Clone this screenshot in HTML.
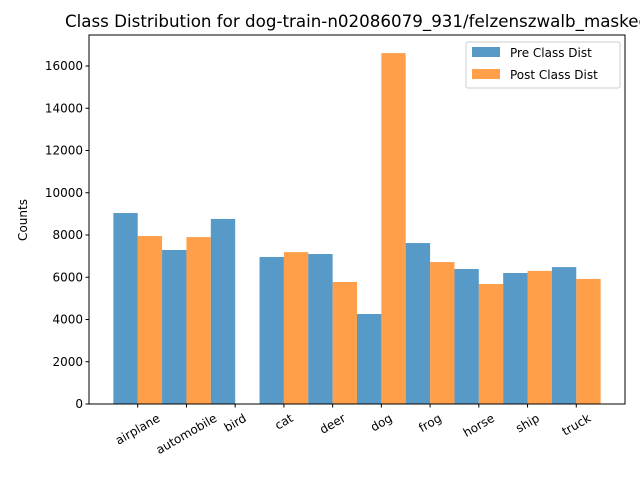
<!DOCTYPE html>
<html><head><meta charset="utf-8"><style>
body{margin:0;background:#fff;}
svg{display:block;font-family:"DejaVu Sans","Liberation Sans",sans-serif;}
</style></head><body>
<svg id="chart" width="640" height="480" viewBox="0 0 640 480" xmlns="http://www.w3.org/2000/svg">
<rect width="640" height="480" fill="#fff"/>
<text x="357" y="27" font-size="16.7" text-anchor="middle" fill="#000">Class Distribution for dog-train-n02086079_931/felzenszwalb_masked</text>
<g id="bars"></g>
<g id="axes"></g>
<text transform="translate(27,220) rotate(-90)" font-size="12" text-anchor="middle">Counts</text>
<g>
<rect x="466" y="42" width="154" height="46" fill="#fff" fill-opacity="0.8" stroke="#ccc" rx="2"/>
<rect x="472" y="47" width="28" height="10" fill="#1f77b4" fill-opacity="0.75"/>
<text x="510" y="57" font-size="12">Pre Class Dist</text>
<rect x="472" y="69" width="28" height="10" fill="#ff7f0e" fill-opacity="0.75"/>
<text x="510" y="79" font-size="12">Post Class Dist</text>
</g>
</svg>
<script>
const categories=["airplane","automobile","bird","cat","deer","dog","frog","horse","ship","truck"];
const preValues=[9040,7290,8760,6960,7100,4260,7620,6390,6200,6480];
const postValues=[7950,7900,0,7190,5775,16610,6720,5680,6300,5920];
const yTicks=[0,2000,4000,6000,8000,10000,12000,14000,16000];
const L=89,R=625,T=35,B=404;
const x=i=>L+(i+1)/11*(R-L);
const y=v=>B-v/16000*(B-66);
const NS="http://www.w3.org/2000/svg";
function mk(t,a,p){const e=document.createElementNS(NS,t);for(const k in a)e.setAttribute(k,a[k]);p.appendChild(e);return e;}
const bars=document.getElementById('bars'),axes=document.getElementById('axes');
const w=x(0.5)-x(0);
categories.forEach((c,i)=>{
 let r=mk('rect',{x:x(i-0.5),y:y(preValues[i]),width:w,height:B-y(preValues[i]),fill:'#1f77b4','fill-opacity':0.75},bars);
 
 
 let q=mk('rect',{x:x(i),y:y(postValues[i]),width:w,height:B-y(postValues[i]),fill:'#ff7f0e','fill-opacity':0.75},bars);
 
 
 mk('line',{x1:x(i),x2:x(i),y1:B,y2:B+3.5,stroke:'#000'},axes);
 let t=mk('text',{'font-size':12,'text-anchor':'middle','dominant-baseline':'central'},axes);
 t.textContent=c;
 
 
 const tw=t.getComputedTextLength();
 const bh=tw*0.5+14*0.866;
 t.setAttribute('transform',`translate(${x(i)},${B+7+bh/2}) rotate(-30)`);
});
yTicks.forEach(v=>{
 mk('line',{x1:L-3.5,x2:L,y1:y(v),y2:y(v),stroke:'#000'},axes);
 let t=mk('text',{x:L-6,y:y(v)+4,'font-size':12,'text-anchor':'end'},axes);
 t.textContent=v;
 
 
});
let f=mk('rect',{x:L,y:T,width:R-L,height:B-T,fill:'none',stroke:'#000','stroke-width':1},axes);


</script>
</body></html>
